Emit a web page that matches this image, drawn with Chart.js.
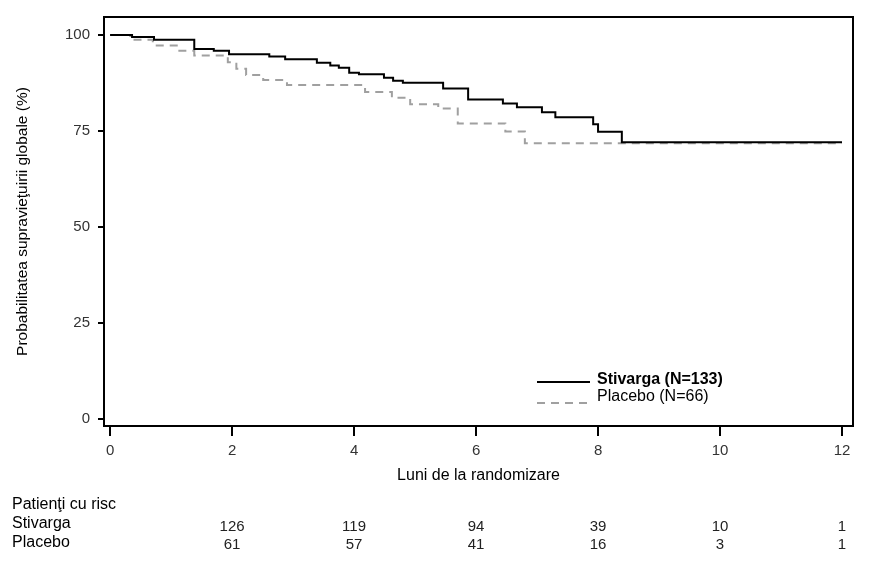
<!DOCTYPE html>
<html>
<head>
<meta charset="utf-8">
<script src="https://cdn.jsdelivr.net/npm/chart.js@4"></script>
<style>
  html, body { margin: 0; padding: 0; background: #fff; }
  #wrap { width: 892px; height: 576px; position: relative; }
</style>
</head>
<body>
<div id="wrap"><canvas id="km"></canvas></div>
<script>
// Kaplan-Meier values (months, % survival)
const stivargaTimes = [0, 0.36, 0.72, 1.38, 1.70, 1.95, 2.61, 2.87, 3.39, 3.61, 3.75, 3.92, 4.08, 4.49, 4.64, 4.80, 5.46, 5.87, 6.44, 6.67, 7.08, 7.30, 7.92, 8.00, 8.39, 12.0];
const stivargaSurv  = [100, 99.5, 98.8, 96.4, 95.9, 95.0, 94.4, 93.7, 92.8, 92.1, 91.5, 90.2, 89.8, 88.9, 88.1, 87.6, 86.1, 83.2, 82.2, 81.2, 79.9, 78.6, 76.8, 74.8, 72.1, 72.1];

const placeboTimes = [0, 0.33, 0.70, 1.11, 1.38, 1.93, 2.07, 2.23, 2.51, 2.90, 4.18, 4.62, 4.92, 5.38, 5.70, 6.48, 6.80, 12.0];
const placeboSurv  = [100, 98.8, 97.3, 95.9, 94.7, 92.9, 91.2, 89.6, 88.3, 87.0, 85.2, 83.7, 82.0, 80.9, 77.0, 74.9, 71.8, 71.8];

const xTicks = [0, 2, 4, 6, 8, 10, 12];
const yTicks = [0, 25, 50, 75, 100];

// at-risk table
const riskTimes = [2, 4, 6, 8, 10, 12];
const riskStivarga = [126, 119, 94, 39, 10, 1];
const riskPlacebo = [61, 57, 41, 16, 3, 1];

const FONT = "'Liberation Sans', Arial, sans-serif";

function toPoints(xs, ys) {
    return xs.map((x, i) => ({ x: x, y: ys[i] }));
}

// frame around the plot area
const frameBox = {
    id: 'frameBox',
    afterDatasetsDraw(chart) {
        const a = chart.chartArea;
        const ctx = chart.ctx;
        ctx.save();
        ctx.strokeStyle = '#000';
        ctx.lineWidth = 2;
        ctx.strokeRect(a.left, a.top, a.right - a.left, a.bottom - a.top);
        ctx.restore();
    }
};

// legend inside the plot, lower right
const innerLegend = {
    id: 'innerLegend',
    afterDraw(chart) {
        const ctx = chart.ctx;
        const rows = [
            { ds: chart.data.datasets[0], y: 382, ty: 380, bold: true },
            { ds: chart.data.datasets[1], y: 403, ty: 397, bold: false }
        ];
        ctx.save();
        rows.forEach(r => {
            ctx.strokeStyle = r.ds.borderColor;
            ctx.lineWidth = 2;
            ctx.setLineDash(r.ds.borderDash || []);
            ctx.beginPath();
            ctx.moveTo(537, r.y);
            ctx.lineTo(590, r.y);
            ctx.stroke();
            ctx.setLineDash([]);
            ctx.fillStyle = '#000';
            ctx.font = (r.bold ? 'bold ' : '') + '16px ' + FONT;
            ctx.textBaseline = 'middle';
            ctx.textAlign = 'left';
            ctx.fillText(r.ds.label, 597, r.ty);
        });
        ctx.restore();
    }
};

// patients at risk under the x axis
const riskTable = {
    id: 'riskTable',
    afterDraw(chart) {
        const ctx = chart.ctx;
        const xs = chart.scales.x;
        ctx.save();
        ctx.fillStyle = '#000';
        ctx.font = '16px ' + FONT;
        ctx.textBaseline = 'middle';
        ctx.textAlign = 'left';
        ctx.fillText('Patienţi cu risc', 12, 505);
        ctx.fillText('Stivarga', 12, 524);
        ctx.fillText('Placebo', 12, 543);
        ctx.textAlign = 'center';
        ctx.font = '15px ' + FONT;
        ctx.fillStyle = '#222';
        riskTimes.forEach((t, i) => {
            const px = xs.getPixelForValue(t);
            ctx.fillText(String(riskStivarga[i]), px, 527);
            ctx.fillText(String(riskPlacebo[i]), px, 545);
        });
        ctx.restore();
    }
};

new Chart(document.getElementById('km'), {
    type: 'line',
    data: {
        datasets: [{
            label: 'Stivarga (N=133)',
            data: toPoints(stivargaTimes, stivargaSurv),
            borderColor: '#000000',
            borderWidth: 2,
            stepped: true,
            pointRadius: 0,
            fill: false
        }, {
            label: 'Placebo (N=66)',
            data: toPoints(placeboTimes, placeboSurv),
            borderColor: '#a0a0a0',
            borderWidth: 2,
            borderDash: [8, 6],
            stepped: true,
            pointRadius: 0,
            fill: false
        }]
    },
    options: {
        responsive: true,
        maintainAspectRatio: false,
        animation: false,
        layout: {
            padding: { left: 0, right: 39, top: 15, bottom: 0 }
        },
        plugins: {
            legend: { display: false },
            tooltip: { enabled: false }
        },
        scales: {
            x: {
                type: 'linear',
                min: -0.1,
                max: 12.18,
                afterBuildTicks: axis => { axis.ticks = xTicks.map(v => ({ value: v })); },
                afterFit: axis => { axis.height = 150; },
                border: { display: false },
                grid: {
                    drawOnChartArea: false,
                    color: '#000',
                    lineWidth: 2,
                    tickLength: 10
                },
                ticks: {
                    color: '#333',
                    padding: 6,
                    maxRotation: 0,
                    font: { family: FONT, size: 15 }
                },
                title: {
                    display: true,
                    text: 'Luni de la randomizare',
                    color: '#000',
                    font: { family: FONT, size: 16 },
                    padding: { top: 0, bottom: 91 }
                }
            },
            y: {
                min: -1.8,
                max: 104.7,
                afterBuildTicks: axis => { axis.ticks = yTicks.map(v => ({ value: v })); },
                afterFit: axis => { axis.width = 104; },
                border: { display: false },
                grid: {
                    drawOnChartArea: false,
                    color: '#000',
                    lineWidth: 2,
                    tickLength: 6
                },
                ticks: {
                    color: '#333',
                    padding: 8,
                    font: { family: FONT, size: 15 }
                },
                title: {
                    display: true,
                    text: 'Probabilitatea supravieţuirii globale (%)',
                    color: '#000',
                    font: { family: FONT, size: 15.5 },
                    padding: { top: 13, bottom: 0 }
                }
            }
        }
    },
    plugins: [frameBox, innerLegend, riskTable]
});
</script>
</body>
</html>
